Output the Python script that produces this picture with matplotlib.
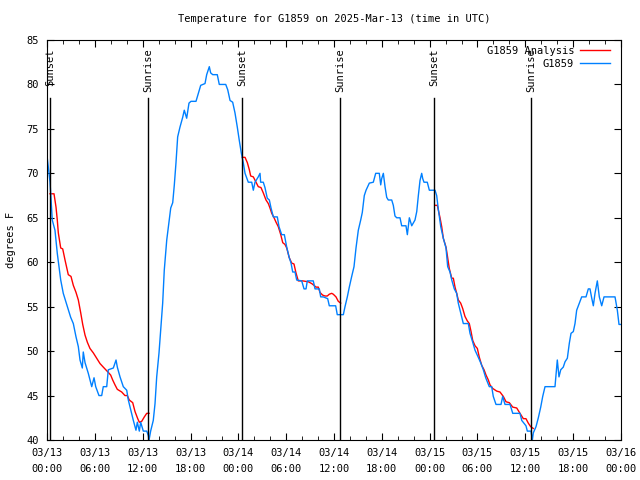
import matplotlib
matplotlib.use("Agg")
import matplotlib.pyplot as plt
from matplotlib.ticker import MultipleLocator

# hours since 2025-03-13 00:00 UTC
obs_h = [0.0, 0.38, 0.66, 1.0, 1.29, 1.72, 2.04, 2.55, 2.97, 3.30, 3.64, 3.93, 4.14, 4.43, 4.55,
         4.77, 5.18, 5.61, 5.90, 6.11, 6.52, 6.86, 7.06, 7.49, 7.69, 8.32, 8.66, 8.82, 9.16,
         9.57, 10.0, 10.2, 10.5, 10.83, 11.16, 11.33, 11.58, 11.75, 12.08, 12.51, 12.71, 12.8,
         13.0, 13.33, 13.55, 13.76, 14.05, 14.26, 14.51, 14.71, 15.02, 15.34, 15.52, 15.77,
         15.97, 16.18, 16.39, 16.68, 17.02, 17.22, 17.52, 17.81, 18.06, 18.69, 18.98, 19.28,
         19.82, 20.03, 20.36, 20.53, 20.79, 21.36, 21.61, 22.42, 22.67, 22.96, 23.29, 23.58,
         23.87, 24.12, 24.37, 24.62, 24.84, 25.25, 25.68, 25.88, 26.09, 26.5, 26.72, 26.8,
         27.13, 27.34, 27.63, 27.89, 28.1, 28.39, 28.89, 29.1, 29.44, 29.77, 30.07, 30.36,
         30.61, 30.82, 31.11, 31.32, 31.95, 32.24, 32.49, 32.65, 33.4, 33.62, 34.16, 34.33,
         34.66, 35.21, 35.41, 36.21, 36.41, 37.17, 37.38, 37.67, 37.92, 38.22, 38.51, 38.76,
         39.05, 39.35, 39.55, 39.8, 40.02, 40.43, 40.93, 41.23, 41.68, 41.86, 41.98, 42.19,
         42.4, 42.61, 42.81, 43.24, 43.44, 43.65, 43.87, 44.28, 44.49, 45.03, 45.2, 45.45,
         45.75, 46.16, 46.38, 46.58, 46.79, 47.0, 47.13, 47.29, 47.7, 47.96, 48.67, 48.88,
         49.08, 49.39, 49.71, 50.05, 50.26, 50.55, 50.77, 51.09, 51.39, 51.59, 51.89, 52.22,
         52.85, 53.06, 53.4, 53.69, 54.1, 54.44, 54.73, 55.03, 55.48, 55.78, 55.98, 56.32,
         56.95, 57.16, 57.45, 58.08, 58.42, 59.33, 59.55, 60.08, 60.25, 60.71, 60.88, 61.0,
         61.34, 61.63, 61.93, 62.18, 62.47, 63.72, 64.01, 64.22, 64.44, 64.76, 64.98, 65.27,
         65.52, 65.73, 66.02, 66.23, 66.44, 66.65, 67.07, 67.61, 67.9, 68.11, 68.32, 68.53,
         68.74, 69.03, 69.28, 69.58, 69.87, 71.25, 71.54, 71.75, 72.0]
obs_t = [72.0, 69.0, 64.75, 63.6, 61.0, 58.0, 56.5, 55.0, 53.8, 53.1, 51.6, 50.5, 49.0, 48.1, 49.9,
         48.7, 47.5, 46.0, 47.0, 46.0, 45.0, 45.0, 46.0, 46.0, 47.9, 48.1, 49.0, 48.2, 47.1,
         46.0, 45.6, 44.5, 43.4, 42.2, 41.1, 42.0, 41.0, 42.0, 41.0, 41.0, 40.5, 40.0,
         41.0, 42.2, 44.1, 47.1, 49.8, 52.4, 55.4, 59.1, 62.5, 64.75, 66.1, 66.7,
         68.7, 71.2, 74.1, 75.2, 76.3, 77.1, 76.2, 77.9, 78.1, 78.1, 79.0, 79.9,
         80.1, 81.1, 82.0, 81.3, 81.1, 81.1, 80.0, 80.0, 79.4, 78.2, 78.0, 76.8,
         75.2, 73.7, 72.3, 71.2, 70.0, 69.0, 69.0, 68.1, 69.0, 69.6, 70.0, 69.0,
         69.0, 68.4, 67.2, 67.0, 66.1, 65.1, 65.1, 64.0, 63.1, 63.1, 61.7, 60.6,
         59.9, 58.9, 58.9, 58.0, 57.9, 57.0, 57.0, 57.9, 57.9, 57.0, 57.0, 56.1,
         56.1, 55.9, 55.1, 55.1, 54.1, 54.1, 55.0, 56.1, 57.2, 58.4, 59.5, 61.6,
         63.6, 64.75, 65.6, 67.5, 68.1, 68.9, 69.0, 70.0, 70.0, 68.7, 69.4, 70.0,
         68.5, 67.3, 67.0, 67.0, 66.4, 65.2, 65.0, 65.0, 64.1, 64.1, 63.1, 65.0,
         64.1, 64.75, 65.7, 67.5, 69.2, 70.0, 69.4, 69.0, 69.0, 68.1, 68.1, 67.5,
         66.0, 64.0, 62.7, 61.6, 59.5, 58.9, 58.0, 57.0, 56.5, 55.4, 54.3, 53.1,
         53.1, 52.0, 51.0, 50.1, 49.3, 48.6, 47.9, 47.0, 46.0, 46.0, 44.9, 44.0,
         44.0, 44.9, 44.0, 44.0, 43.0, 43.0, 42.2, 41.6, 41.0, 41.0, 40.0, 40.8,
         41.5, 42.5, 43.7, 44.9, 46.0, 46.0, 49.0, 47.1, 47.9, 48.2, 48.8, 49.2,
         50.9, 52.0, 52.2, 53.1, 54.6, 55.1, 56.1, 56.1, 57.0, 57.0, 56.0, 55.1,
         56.5, 57.9, 56.1, 55.1, 56.1, 56.1, 54.6, 53.0, 53.0]

# analysis, one piece per night
ana1_h = [0.38, 0.88, 1.13, 1.29, 1.42, 1.72, 1.97, 2.26, 2.67, 3.01, 3.30, 3.64, 3.93, 4.23,
          4.48, 4.77, 5.06, 5.39, 5.81, 6.23, 6.65, 7.06, 7.69, 7.99, 8.24, 8.53, 8.82, 9.37,
          9.78, 10.07, 10.32, 10.75, 11.04, 11.38, 11.58, 11.88, 12.21, 12.51, 12.8]
ana1_t = [67.7, 67.7, 66.2, 64.75, 63.3, 61.6, 61.5, 60.25, 58.6, 58.4, 57.4, 56.6, 55.75, 54.3,
          53.0, 51.8, 51.0, 50.3, 49.8, 49.2, 48.6, 48.2, 47.6, 47.3, 46.75, 46.2, 45.7, 45.4,
          45.0, 45.0, 44.5, 44.2, 43.2, 42.4, 42.0, 42.1, 42.6, 43.0, 43.0]
ana2_h = [24.5, 24.84, 25.13, 25.38, 25.55, 25.88, 26.22, 26.5, 26.84, 27.13, 27.47, 27.76,
          27.97, 28.19, 28.48, 28.73, 29.01, 29.32, 29.57, 29.85, 30.07, 30.39, 30.7, 30.98,
          31.23, 31.52, 32.07, 32.78, 33.2, 33.49, 33.74, 34.03, 34.24, 34.58, 34.87, 35.16,
          35.41, 35.71, 35.91, 36.25, 36.54, 36.84]
ana2_t = [71.8, 71.8, 71.2, 70.4, 69.7, 69.6, 69.0, 68.5, 68.4, 67.8, 67.0, 66.6,
          66.1, 65.5, 65.0, 64.5, 64.0, 63.1, 62.2, 62.0, 61.6, 60.5, 59.9, 59.8,
          58.8, 57.9, 57.9, 57.8, 57.6, 57.4, 57.2, 57.2, 56.6, 56.3, 56.2, 56.2,
          56.4, 56.5, 56.4, 56.1, 55.6, 55.4]
ana3_h = [48.67, 48.96, 49.08, 49.3, 49.51, 49.71, 50.05, 50.21, 50.46, 50.77, 50.97, 51.18,
          51.39, 51.59, 51.89, 52.14, 52.43, 52.72, 52.97, 53.19, 53.4, 53.69, 53.98, 54.23,
          54.53, 54.82, 55.07, 55.36, 55.57, 55.91, 56.41, 56.82, 57.24, 57.58, 57.99, 58.42,
          58.92, 59.33, 59.75, 60.08, 60.37, 60.67, 61.0]
ana3_t = [66.4, 66.4, 65.9, 65.0, 64.0, 62.7, 61.7, 60.8, 59.3, 58.2, 58.2, 57.2,
          56.5, 55.75, 55.4, 54.8, 53.9, 53.4, 53.1, 52.2, 51.2, 50.6, 50.3, 49.3,
          48.4, 47.9, 47.3, 46.75, 46.2, 45.8, 45.5, 45.4, 44.9, 44.3, 44.2, 43.7,
          43.6, 43.0, 42.4, 42.4, 41.9, 41.5, 41.3]

sun_h = [0.38, 12.7, 24.5, 36.75, 48.55, 60.7]
sun_lbl = ["Sunset", "Sunrise", "Sunset", "Sunrise", "Sunset", "Sunrise"]

xtick_h = list(range(0, 73, 6))
xtick_lbl = ["03/13\n00:00", "03/13\n06:00", "03/13\n12:00", "03/13\n18:00",
             "03/14\n00:00", "03/14\n06:00", "03/14\n12:00", "03/14\n18:00",
             "03/15\n00:00", "03/15\n06:00", "03/15\n12:00", "03/15\n18:00",
             "03/16\n00:00"]

plt.rcParams['font.family'] = ['DejaVu Sans Mono']
plt.rcParams['font.size'] = 7.5

fig = plt.figure(figsize=(6.4, 4.8), dpi=100)
ax = fig.add_axes([47/640, 40/480, 574/640, 400/480])

red = '#ff0000'
blue = '#0080ff'
ax.plot(ana1_h, ana1_t, color=red, lw=1.0, label='G1859 Analysis')
ax.plot(ana2_h, ana2_t, color=red, lw=1.0)
ax.plot(ana3_h, ana3_t, color=red, lw=1.0)
ax.plot(obs_h, obs_t, color=blue, lw=1.0, label='G1859')

for h, s in zip(sun_h, sun_lbl):
    ax.plot([h, h], [40, 78.5], color='black', lw=1.0)
    ax.text(h, 84.1, s, rotation=90, ha='center', va='top', fontsize=7.5)

ax.set_xlim(0, 72)
ax.set_ylim(40, 85)
ax.set_xticks(xtick_h)
ax.set_xticklabels(xtick_lbl, linespacing=1.7)
ax.xaxis.set_minor_locator(MultipleLocator(2))
ax.yaxis.set_major_locator(MultipleLocator(5))
ax.tick_params(which='both', direction='in', top=True, right=True)
ax.tick_params(which='major', length=5)
ax.tick_params(which='minor', length=3)
ax.tick_params(axis='x', pad=6)
ax.tick_params(axis='y', pad=6)
ax.set_ylabel('degrees F', labelpad=7)
ax.set_title('Temperature for G1859 on 2025-Mar-13 (time in UTC)', fontsize=7.5, pad=13)

ax.legend(loc='upper right', bbox_to_anchor=(0.99, 1.0), frameon=False, markerfirst=False,
          handlelength=2.8, borderaxespad=0.15, labelspacing=0.3, handletextpad=0.6,
          fontsize=7.5)

fig.savefig('out.png', dpi=100)
